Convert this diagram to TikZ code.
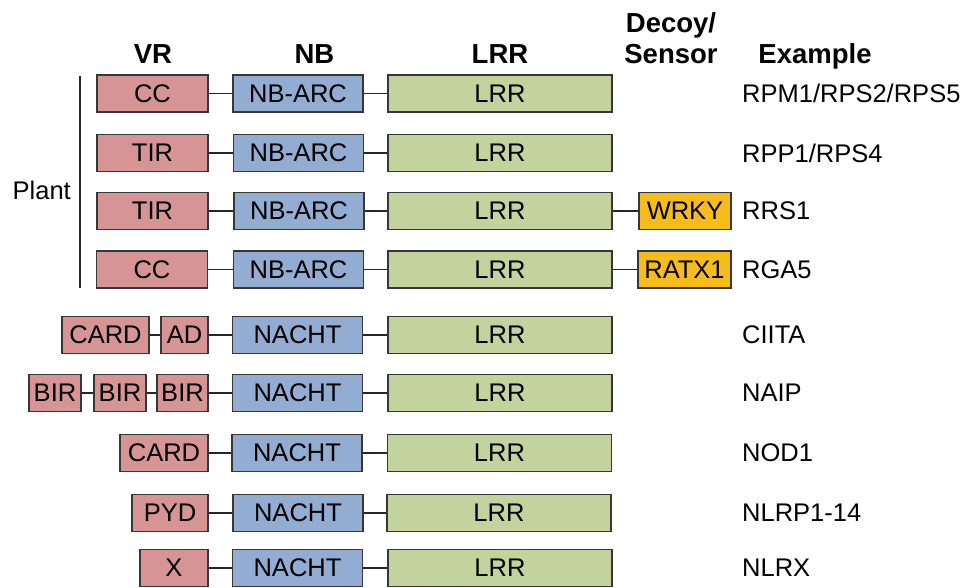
\documentclass[tikz,border=0pt]{standalone}
\usepackage{fontspec}
\setmainfont{Liberation Sans}
\definecolor{vrred}{RGB}{214,148,148}
\definecolor{nbblue}{RGB}{146,172,210}
\definecolor{lrrgreen}{RGB}{194,211,158}
\definecolor{dsorange}{RGB}{246,188,28}
\definecolor{edge}{RGB}{55,55,55}
\tikzset{
  dom/.style={draw=edge, line width=1.3pt, rectangle, inner sep=0pt, minimum height=37pt,
    font=\fontsize{25.5}{30}\selectfont, text=black},
  vr/.style={dom, fill=vrred},
  nb/.style={dom, fill=nbblue, minimum width=130pt},
  lrr/.style={dom, fill=lrrgreen, minimum width=224pt},
  ds/.style={dom, fill=dsorange},
  hdr/.style={font=\fontsize{27.5}{30}\selectfont\bfseries, anchor=base, inner sep=0pt},
  ex/.style={font=\fontsize{25.5}{30}\selectfont, anchor=west, inner sep=0pt},
  link/.style={draw=black!85, line width=1.3pt}
}
\begin{document}
\begin{tikzpicture}[x=1pt, y=-1pt]
\useasboundingbox (0,0) rectangle (969,588);
% headers
\node[hdr] (hVR) at (153,64) {VR};
\node[hdr] (hNB) at (314.5,64) {NB};
\node[hdr] (hLRR) at (500,64) {LRR};
\node[hdr] (hDec) at (671,33) {Decoy/};
\node[hdr] (hSen) at (671,64) {Sensor};
\node[hdr] (hEx) at (815,64) {Example};
% plant bracket
\coordinate (pt) at (80,76);
\coordinate (pb) at (80,288);
\draw[line width=1.5pt, draw=black!85] (pt) -- (pb);
\node[font=\fontsize{25.5}{30}\selectfont, anchor=base east, inner sep=0pt] (plant) at (71,200) {Plant};
% row 1
\node[vr, minimum width=111pt] (a1) at (152.5,93.5) {CC};
\node[nb] (b1) at (298,93.5) {NB-ARC};
\node[lrr] (c1) at (500,93.5) {LRR};
\node[ex] (e1) at (742,93.5) {RPM1/RPS2/RPS5};
\draw[link] (a1) -- (b1); \draw[link] (b1) -- (c1);
% row 2
\node[vr, minimum width=111pt] (a2) at (152.5,153) {TIR};
\node[nb] (b2) at (298.5,153) {NB-ARC};
\node[lrr] (c2) at (500,153) {LRR};
\node[ex] (e2) at (742,153) {RPP1/RPS4};
\draw[link] (a2) -- (b2); \draw[link] (b2) -- (c2);
% row 3
\node[vr, minimum width=111pt] (a3) at (152.5,211) {TIR};
\node[nb] (b3) at (299,211) {NB-ARC};
\node[lrr] (c3) at (500,211) {LRR};
\node[ds, minimum width=92pt] (d3) at (685,211) {WRKY};
\node[ex] (e3) at (742,211) {RRS1};
\draw[link] (a3) -- (b3); \draw[link] (b3) -- (c3); \draw[link] (c3) -- (d3);
% row 4
\node[vr, minimum width=111pt] (a4) at (152,269.5) {CC};
\node[nb] (b4) at (298.5,269.5) {NB-ARC};
\node[lrr] (c4) at (500,269.5) {LRR};
\node[ds, minimum width=93pt] (d4) at (684.5,269.5) {RATX1};
\node[ex] (e4) at (742,269.5) {RGA5};
\draw[link] (a4) -- (b4); \draw[link] (b4) -- (c4); \draw[link] (c4) -- (d4);
% row 5
\node[vr, minimum width=87pt] (a5) at (105.5,335) {CARD};
\node[vr, minimum width=47pt] (f5) at (184.5,335) {AD};
\node[nb] (b5) at (297.5,335) {NACHT};
\node[lrr] (c5) at (500,335) {LRR};
\node[ex] (e5) at (742,335) {CIITA};
\draw[link] (a5) -- (f5); \draw[link] (f5) -- (b5); \draw[link] (b5) -- (c5);
% row 6
\node[vr, minimum width=52pt] (a6) at (55,393) {BIR};
\node[vr, minimum width=52pt] (f6) at (120,393) {BIR};
\node[vr, minimum width=51pt] (g6) at (182.5,393) {BIR};
\node[nb] (b6) at (297.5,393) {NACHT};
\node[lrr] (c6) at (500,393) {LRR};
\node[ex] (e6) at (742,393) {NAIP};
\draw[link] (a6) -- (f6); \draw[link] (f6) -- (g6); \draw[link] (g6) -- (b6); \draw[link] (b6) -- (c6);
% row 7
\node[vr, minimum width=88pt] (a7) at (164,453) {CARD};
\node[nb] (b7) at (297,453) {NACHT};
\node[lrr] (c7) at (499.5,453) {LRR};
\node[ex] (e7) at (742,453) {NOD1};
\draw[link] (a7) -- (b7); \draw[link] (b7) -- (c7);
% row 8
\node[vr, minimum width=76pt] (a8) at (170,513) {PYD};
\node[nb] (b8) at (298,513) {NACHT};
\node[lrr] (c8) at (499,513) {LRR};
\node[ex] (e8) at (742,513) {NLRP1-14};
\draw[link] (a8) -- (b8); \draw[link] (b8) -- (c8);
% row 9
\node[vr, minimum width=68pt] (a9) at (174,568) {X};
\node[nb] (b9) at (297.5,568) {NACHT};
\node[lrr] (c9) at (500,568) {LRR};
\node[ex] (e9) at (742,568) {NLRX};
\draw[link] (a9) -- (b9); \draw[link] (b9) -- (c9);
\end{tikzpicture}
\end{document}
